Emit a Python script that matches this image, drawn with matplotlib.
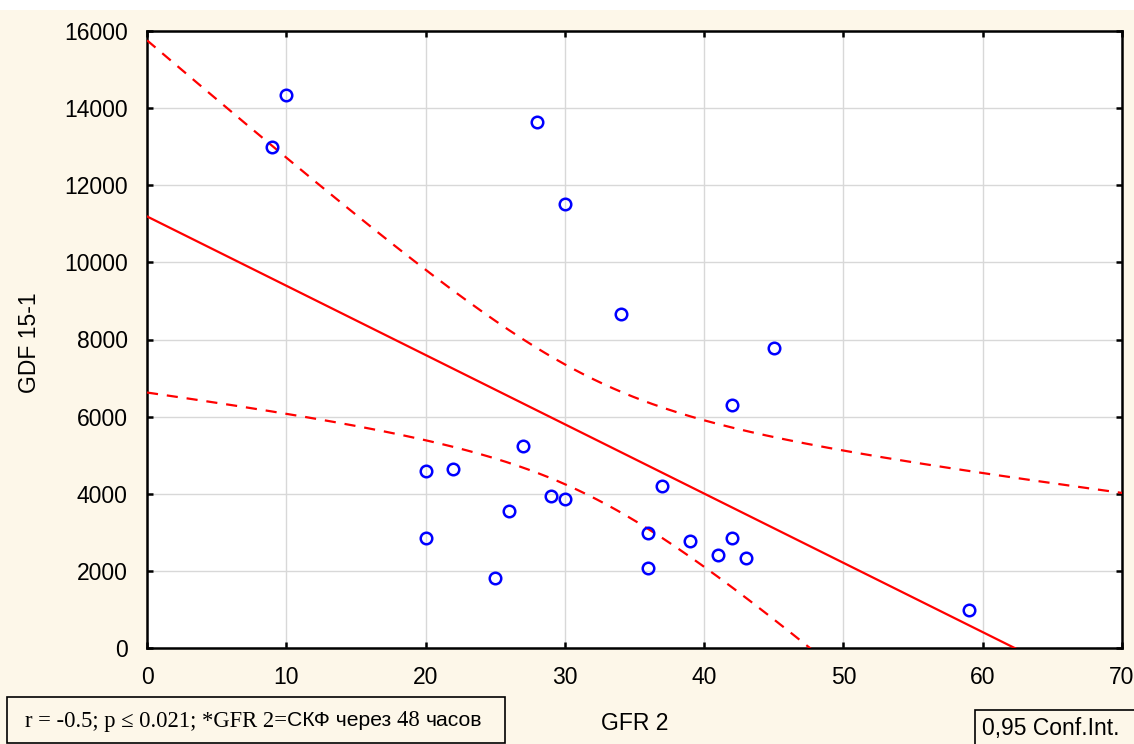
import numpy as np
import matplotlib
matplotlib.use("Agg")
import matplotlib.pyplot as plt
from matplotlib.patches import Rectangle
from matplotlib.offsetbox import TextArea, HPacker, AnchoredOffsetbox

plt.rcParams['font.family'] = ['Liberation Sans', 'DejaVu Sans']

# GFR 2 vs GDF 15-1
gfr2 = [9, 10, 28, 30, 34, 45, 42, 27, 20, 22, 37, 29,
        30, 26, 20, 36, 39, 42, 41, 43, 36, 25, 59]
gdf15 = [13000, 14350, 13650, 11520, 8650, 7770, 6290, 5230, 4580, 4630, 4190, 3930,
         3860, 3550, 2850, 2980, 2770, 2850, 2410, 2330, 2070, 1810, 980]

x_ticks = [0, 10, 20, 30, 40, 50, 60, 70]
y_ticks = [0, 2000, 4000, 6000, 8000, 10000, 12000, 14000, 16000]
T_95 = 2.0796  # t(0.975, df=21)

BG = '#fdf7e9'

x = np.array(gfr2, dtype=float)
y = np.array(gdf15, dtype=float)
n = len(x)
slope, icpt = np.polyfit(x, y, 1)
resid = y - (icpt + slope * x)
s = np.sqrt((resid ** 2).sum() / (n - 2))
sxx = ((x - x.mean()) ** 2).sum()

xs = np.linspace(0, 70, 300)
fit = icpt + slope * xs
half = T_95 * s * np.sqrt(1.0 / n + (xs - x.mean()) ** 2 / sxx)

fig = plt.figure(figsize=(11.34, 7.44), dpi=100, facecolor=BG)
ax = fig.add_axes([147 / 1134, 1 - 648 / 744, 975 / 1134, 617 / 744])
ax.set_facecolor('white')

ax.plot(xs, fit, color='#ff0000', lw=1.6, zorder=3)
ax.plot(xs, fit + half, color='#ff0000', lw=1.6, dashes=(5, 4), zorder=3)
ax.plot(xs, fit - half, color='#ff0000', lw=1.6, dashes=(5, 4), zorder=3)
ax.plot(x, y, 'o', mfc='none', mec='#0000ff', ms=8.3, mew=1.8, zorder=4)

ax.set_xlim(0, 70)
ax.set_ylim(0, 16000)
ax.set_xticks(x_ticks)
ax.set_yticks(y_ticks)
ax.grid(True, color='#d8d8d8', lw=1.0, zorder=0)
ax.set_axisbelow(True)
for sp in ax.spines.values():
    sp.set_linewidth(1.8)
    sp.set_color('black')
ax.tick_params(direction='in', length=4, width=1.8, top=True, right=True,
               labelsize=16.5)
ax.tick_params(axis='x', pad=13)
ax.tick_params(axis='y', pad=14)

fig.text(30 / 1134, 1 - 343 / 744, 'GDF 15-1', rotation=90, ha='center',
         va='center', fontsize=16.5)
fig.text(635 / 1134, 1 - 724 / 744, 'GFR 2', ha='center', va='center',
         fontsize=16.5)

# white strip at the very top
fig.patches.append(Rectangle((0, 1 - 10 / 744), 1, 10 / 744, transform=fig.transFigure,
                             facecolor='white', edgecolor='none', zorder=-1))

# left note box
fig.patches.append(Rectangle((7 / 1134, 1 - 743 / 744), 498 / 1134, 46 / 744,
                             transform=fig.transFigure, facecolor=BG,
                             edgecolor='black', lw=1.2))
serif = dict(family=['Liberation Serif', 'DejaVu Serif'], size=16.3)
sans = dict(family=['Liberation Sans', 'DejaVu Sans'], size=15.2)
parts = [TextArea('r = -0.5; p \u2264 0.021; *GFR 2=', textprops=serif),
         TextArea('\u0421\u041a\u0424 \u0447\u0435\u0440\u0435\u0437 ', textprops=sans),
         TextArea('48 ', textprops=serif),
         TextArea('\u0447\u0430\u0441\u043e\u0432', textprops=sans)]
row = HPacker(children=parts, align='baseline', pad=0, sep=0)
note = AnchoredOffsetbox(loc='center left', child=row, pad=0, borderpad=0,
                         frameon=False, bbox_to_anchor=(25 / 1134, 1 - 721 / 744),
                         bbox_transform=fig.transFigure)
fig.add_artist(note)

# legend box
fig.patches.append(Rectangle((975 / 1134, 1 - 750 / 744), 170 / 1134, 40 / 744,
                             transform=fig.transFigure, facecolor=BG,
                             edgecolor='black', lw=1.2))
fig.text(982 / 1134, 1 - 729 / 744, '0,95 Conf.Int.', ha='left', va='center',
         fontsize=16.5)

fig.savefig('out.png', dpi=100, facecolor=BG)
